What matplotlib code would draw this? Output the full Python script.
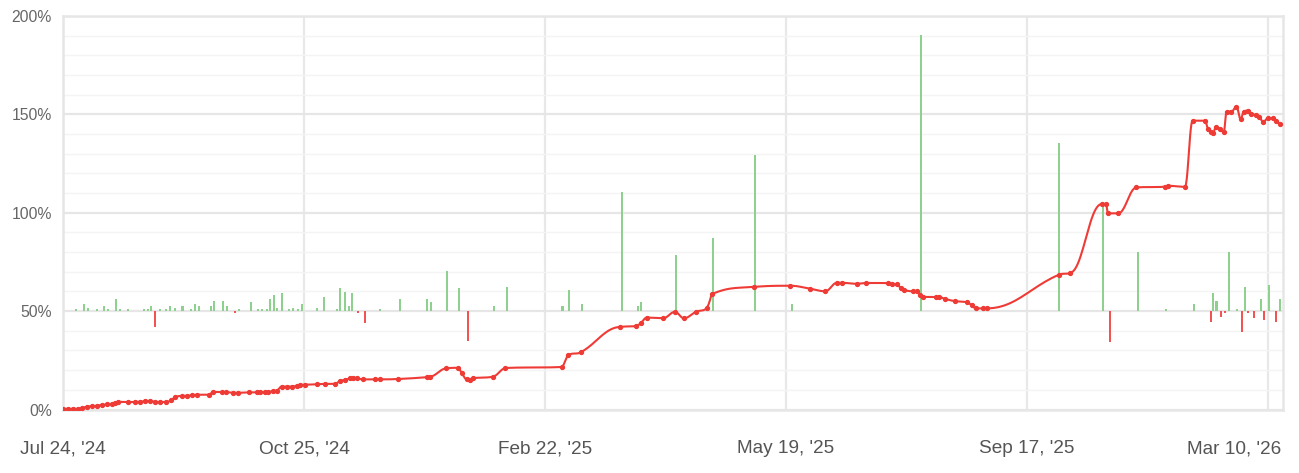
import numpy as np
import matplotlib
matplotlib.use("Agg")
import matplotlib.pyplot as plt
import matplotlib.transforms as mtransforms
from matplotlib.ticker import FuncFormatter, MultipleLocator

# equity curve (x = position on the axis, y = cumulative return in %)
curve_x = [0, 2.2, 4.3, 6.3, 7.8, 9.8, 11.9, 14.0, 16.1, 18.1,
           20.2, 21.6, 22.9, 27.1, 29.9, 32.0, 34.0, 36.1, 38.2, 40.2,
           42.7, 44.8, 46.5, 49.3, 51.3, 53.4, 55.5, 60.5, 62.3, 65.9,
           67.5, 70.7, 72.5, 77.2, 80.4, 81.7, 83.8, 85.2, 87.3, 88.7,
           90.7, 92.8, 94.9, 97.0, 98.3, 100.4, 105.3, 108.7, 112.9, 114.9,
           117.0, 119.1, 120.5, 121.9, 124.6, 129.5, 131.5, 139.1, 150.9, 152.3,
           159.0, 164.0, 165.4, 167.5, 168.9, 170.2, 178.6, 183.6, 206.9, 209.7,
           214.9, 231.3, 238.0, 239.7, 242.3, 249.1, 253.9, 257.7, 262.7, 267.1,
           269.2, 286.6, 301.9, 310.0, 316.3, 321.2, 323.1, 329.5, 333.2, 342.4,
           344.2, 346.2, 347.6, 349.0, 352.8, 354.5, 355.6, 357.0, 362.2, 363.6,
           366.0, 370.1, 375.1, 377.1, 378.8, 381.6, 383.3, 413.3, 418.1, 431.0,
           432.8, 433.7, 437.9, 445.5, 457.3, 458.6, 465.6, 468.8, 473.9, 475.2,
           476.6, 477.3, 478.4, 480.1, 481.7, 482.9, 484.9, 487.0, 488.7, 490.0,
           491.6, 493.2, 495.0, 496.4, 498.1, 500.1, 502.0, 503.3, 505.0]
curve_y = [0.3, 0.3, 0.3, 0.3, 0.7, 1.4, 1.6, 1.9, 2.3, 2.6,
           2.8, 3.5, 3.9, 3.8, 3.8, 4.0, 4.2, 4.5, 3.8, 3.8,
           3.8, 4.6, 6.2, 6.9, 6.9, 7.2, 7.5, 7.5, 8.9, 8.9,
           8.9, 8.5, 8.5, 8.7, 8.7, 8.7, 8.9, 9.0, 9.3, 9.6,
           11.6, 11.6, 11.6, 12.1, 12.5, 12.6, 12.8, 13.0, 13.0, 14.5,
           15.0, 15.9, 16.2, 15.9, 15.3, 15.3, 15.3, 15.5, 16.4, 16.7,
           20.9, 21.2, 18.7, 15.3, 15.1, 15.9, 16.7, 21.1, 21.6, 27.7,
           29.1, 42.0, 42.4, 43.8, 46.7, 46.4, 49.6, 46.4, 49.7, 51.4,
           58.6, 62.3, 62.9, 61.4, 60.1, 64.4, 64.4, 63.9, 64.3, 64.3,
           63.6, 63.6, 61.6, 60.7, 60.1, 60.1, 58.2, 57.2, 57.2, 57.2,
           56.2, 55.1, 54.5, 53.0, 51.4, 51.4, 51.4, 68.5, 69.5, 104.4,
           104.4, 99.7, 99.7, 112.9, 113.2, 113.7, 113.2, 146.8, 146.8, 142.4,
           140.9, 140.4, 143.7, 142.4, 141.0, 151.4, 151.4, 153.9, 147.6, 151.4,
           151.9, 150.2, 149.7, 148.8, 146.3, 148.0, 148.0, 146.8, 145.1]

# per-trade bars, drawn from the 50% baseline
gain_x = [5.4, 8.8, 10.5, 14.0, 16.9, 18.5, 22.0, 23.7, 27.1, 33.6,
          35.1, 36.6, 40.2, 42.8, 44.6, 46.5, 49.6, 53.1, 54.8, 56.3,
          61.3, 62.7, 66.3, 67.9, 73.0, 78.0, 81.0, 82.6, 84.5, 85.9,
          87.4, 88.9, 90.9, 93.9, 95.4, 97.6, 99.0, 105.5, 108.4, 113.6,
          114.9, 117.1, 118.5, 120.0, 131.5, 139.8, 151.2, 152.7, 159.2, 164.4,
          178.8, 184.1, 207.3, 210.0, 215.2, 231.8, 238.5, 239.8, 254.4, 269.6,
          287.1, 302.4, 356.0, 413.4, 431.7, 446.2, 457.7, 469.4, 477.3, 478.7,
          483.8, 487.4, 490.5, 497.0, 500.5, 505.0]
gain_h = [0.9, 3.6, 1.7, 0.9, 2.6, 0.9, 6.1, 0.9, 0.9, 0.9,
          0.9, 2.6, 0.9, 0.9, 2.6, 1.7, 2.6, 0.9, 3.6, 2.6,
          2.6, 5.3, 5.3, 2.6, 0.9, 4.5, 0.9, 0.9, 0.9, 6.0,
          8.2, 1.7, 9.0, 0.9, 1.7, 0.9, 3.6, 1.7, 7.0, 0.9,
          11.6, 9.7, 2.6, 9.0, 0.9, 6.0, 6.0, 4.4, 20.4, 11.6,
          2.6, 12.4, 2.6, 10.7, 3.6, 60.4, 2.6, 4.5, 28.5, 37.3,
          79.1, 3.6, 140.3, 85.3, 53.6, 30.2, 0.9, 3.6, 9.0, 5.3,
          30.2, 0.9, 12.4, 6.1, 13.3, 6.1]
loss_x = [38.2, 71.4, 122.3, 125.2, 167.9, 434.4, 476.3, 480.4, 482.4, 489.1,
          491.8, 494.1, 498.3, 503.4]
loss_h = [-7.9, -0.8, -0.8, -6.2, -15.0, -15.9, -5.4, -2.8, -0.8, -10.8,
          -0.8, -3.7, -4.5, -5.4]

tick_pos = [0, 100, 200, 300, 400, 500]
tick_labels = ["Jul 24, '24", "Oct 25, '24", "Feb 22, '25",
               "May 19, '25", "Sep 17, '25", "Mar 10, '26"]
bar_base = 50


def spline_path(xs, ys, smoothing=1.5, steps=24):
    # Highcharts-like spline through every point
    xs = np.asarray(xs, float)
    ys = np.asarray(ys, float)
    n = len(xs)
    lx, ly, rx, ry = xs.copy(), ys.copy(), xs.copy(), ys.copy()
    d = smoothing + 1
    for i in range(1, n - 1):
        x, y = xs[i], ys[i]
        px, py, nx, ny = xs[i - 1], ys[i - 1], xs[i + 1], ys[i + 1]
        lcx = (smoothing * x + px) / d
        lcy = (smoothing * y + py) / d
        rcx = (smoothing * x + nx) / d
        rcy = (smoothing * y + ny) / d
        corr = 0.0
        if rcx != lcx:
            corr = (rcy - lcy) * (rcx - x) / (rcx - lcx) + y - rcy
        lcy += corr
        rcy += corr
        if lcy > py and lcy > y:
            lcy = max(py, y)
            rcy = 2 * y - lcy
        elif lcy < py and lcy < y:
            lcy = min(py, y)
            rcy = 2 * y - lcy
        if rcy > ny and rcy > y:
            rcy = max(ny, y)
            lcy = 2 * y - rcy
        elif rcy < ny and rcy < y:
            rcy = min(ny, y)
            lcy = 2 * y - rcy
        lx[i], ly[i], rx[i], ry[i] = lcx, lcy, rcx, rcy
    t = np.linspace(0, 1, steps)[:, None]
    out = []
    for i in range(1, n):
        p0 = np.array([xs[i - 1], ys[i - 1]])
        p1 = np.array([rx[i - 1], ry[i - 1]])
        p2 = np.array([lx[i], ly[i]])
        p3 = np.array([xs[i], ys[i]])
        seg = ((1 - t) ** 3) * p0 + 3 * ((1 - t) ** 2) * t * p1 \
            + 3 * (1 - t) * t ** 2 * p2 + t ** 3 * p3
        out.append(seg)
    pts = np.vstack(out)
    return pts[:, 0], pts[:, 1]


plt.rcParams['font.family'] = ['Liberation Sans', 'DejaVu Sans']

fig = plt.figure(figsize=(12.99, 4.73), dpi=100)
ax = fig.add_axes([63 / 1299, (473 - 409.5) / 473, 1220 / 1299, 393.5 / 473])

ax.bar(gain_x, gain_h, bottom=bar_base, width=0.85, color='#8ed08e', zorder=2)
ax.bar(loss_x, loss_h, bottom=bar_base, width=0.85, color='#f25454', zorder=2)

sx, sy = spline_path(curve_x, curve_y)
ax.plot(sx, sy, color='#ef3b36', lw=1.5, zorder=3)
ax.plot(curve_x, curve_y, ls='none', marker='o', ms=2.8, color='#ef3b36', zorder=4)

ax.set_xlim(0, 506.3)
ax.set_ylim(0, 200)
ax.set_xticks(tick_pos)
ax.set_xticklabels(tick_labels)
ax.yaxis.set_major_locator(MultipleLocator(50))
ax.yaxis.set_minor_locator(MultipleLocator(10))
ax.yaxis.set_major_formatter(FuncFormatter(lambda v, p: f"{int(v)}%"))

ax.grid(axis='y', which='major', color='#e6e6e6', lw=1.6, zorder=0)
ax.grid(axis='y', which='minor', color='#f4f4f4', lw=1.0, zorder=0)
ax.grid(axis='x', which='major', color='#e8e8e8', lw=1.6, zorder=0)
ax.set_axisbelow(True)

for s in ax.spines.values():
    s.set_color('#e6e6e6')
    s.set_linewidth(1.8)

ax.tick_params(axis='both', which='both', length=0)
ax.tick_params(axis='x', pad=22, labelsize=13.7, labelcolor='#555555')
ax.tick_params(axis='y', pad=8, labelsize=11.3, labelcolor='#666666')

# keep the last date label inside the figure, as the original does
last = ax.get_xticklabels()[-1]
last.set_horizontalalignment('right')
last.set_transform(last.get_transform() +
                   mtransforms.ScaledTranslation(0.13, 0, fig.dpi_scale_trans))

fig.savefig('out.png', dpi=100)
